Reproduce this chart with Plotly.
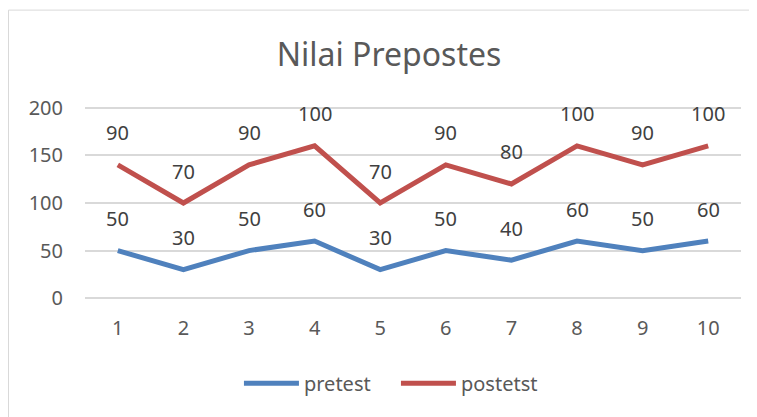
import plotly.graph_objects as go

categories = [1, 2, 3, 4, 5, 6, 7, 8, 9, 10]
pretest = [50, 30, 50, 60, 30, 50, 40, 60, 50, 60]
postetst = [90, 70, 90, 100, 70, 90, 80, 100, 90, 100]
y_ticks = [0, 50, 100, 150, 200]

post_stacked = [a + b for a, b in zip(pretest, postetst)]

FONT = "Noto Sans"
BLUE = "#4F81BD"
RED = "#C0504D"

fig = go.Figure()
fig.add_trace(go.Scatter(x=categories, y=pretest, mode="lines", name="pretest",
                         line=dict(color=BLUE, width=5)))
fig.add_trace(go.Scatter(x=categories, y=post_stacked, mode="lines", name="postetst",
                         line=dict(color=RED, width=5)))

annotations = []
for x, y, v in zip(categories, pretest, pretest):
    annotations.append(dict(x=x, y=y, text=str(v), showarrow=False, yshift=32,
                            font=dict(family=FONT, size=20, color="#404040")))
for x, y, v in zip(categories, post_stacked, postetst):
    annotations.append(dict(x=x, y=y, text=str(v), showarrow=False, yshift=32,
                            font=dict(family=FONT, size=20, color="#404040")))

# value 0 at figure y=290, 200 at y=100 (0.95 px/unit); range padded by 4 units
PAD = 4
top = 100 - PAD * 0.95
bot = 290 + PAD * 0.95
ph = bot - top

fig.update_layout(
    width=757, height=417,
    margin=dict(l=77, r=24, t=top, b=417 - bot),
    paper_bgcolor="white", plot_bgcolor="white",
    font=dict(family=FONT, color="#595959"),
    title=dict(text="Nilai Prepostes", x=381 / 757, xanchor="center", y=1 - 47 / 417,
               yanchor="middle", yref="container", xref="container",
               font=dict(family=FONT, size=32, color="#595959")),
    showlegend=True,
    legend=dict(orientation="h", x=0.474, xanchor="center", y=(bot - 375) / ph, yanchor="middle",
                font=dict(family=FONT, size=20, color="#595959"), itemwidth=55,
                entrywidth=87, entrywidthmode="pixels", traceorder="normal"),
    annotations=annotations,
    shapes=[dict(type="rect", xref="paper", yref="paper",
                 x0=(0.5 - 77) / 656, x1=(744.5 - 77) / 656,
                 y0=-1.0, y1=(bot - 2.5) / ph,
                 line=dict(color="#D9D9D9", width=1), layer="below")],
)
fig.update_xaxes(type="linear", range=[0.5, 10.5], tickvals=categories,
                 ticktext=[str(c) for c in categories], showgrid=False,
                 zeroline=False, showline=False, ticks="outside", ticklen=12 - PAD * 0.95,
                 tickcolor="rgba(0,0,0,0)", tickfont=dict(family=FONT, size=20, color="#595959"))
fig.update_yaxes(range=[-PAD, 200 + PAD], tickvals=y_ticks, showgrid=True, gridcolor="#D9D9D9",
                 gridwidth=1.5, zeroline=False, showline=False, ticks="outside", ticklen=17,
                 tickcolor="rgba(0,0,0,0)", tickfont=dict(family=FONT, size=20, color="#595959"))

fig.write_html("out.html")
